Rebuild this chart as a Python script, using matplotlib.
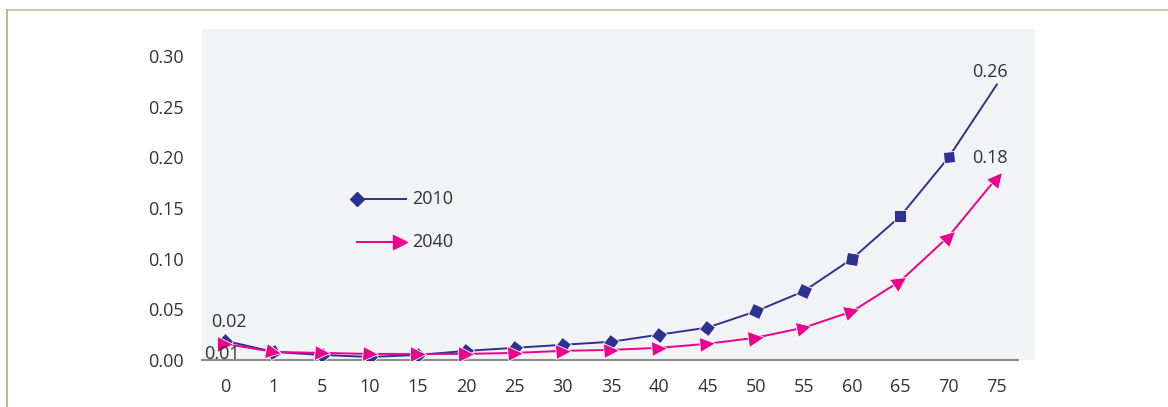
import matplotlib
matplotlib.use("Agg")
from matplotlib import pyplot as plt
from matplotlib.markers import MarkerStyle
from matplotlib.transforms import Affine2D
from matplotlib.lines import Line2D
import numpy as np

ages = ['0', '1', '5', '10', '15', '20', '25', '30', '35', '40', '45',
        '50', '55', '60', '65', '70', '75']
rate_2010 = [0.019, 0.008, 0.005, 0.003, 0.005, 0.009, 0.012, 0.015, 0.018,
             0.025, 0.032, 0.048, 0.068, 0.100, 0.142, 0.200, 0.272]
rate_2040 = [0.016, 0.008, 0.007, 0.006, 0.006, 0.006, 0.007, 0.009, 0.010,
             0.012, 0.016, 0.022, 0.032, 0.048, 0.078, 0.122, 0.180]
yticks = [0.00, 0.05, 0.10, 0.15, 0.20, 0.25, 0.30]

navy = '#2e3192'
pink = '#ec008c'
txt = '#333333'
fs = 13

plt.rcParams['font.family'] = ['Open Sans', 'DejaVu Sans']

fig = plt.figure(figsize=(11.68, 4.07), dpi=100)
ax = fig.add_axes([202/1168, 47/407, 833/1168, 331/407])
ax.set_facecolor('#f2f3f5')

x = np.arange(len(ages))
ax.set_xlim(-0.48, 16.79)
ax.set_ylim(0, 0.3267)

ax.plot(x, rate_2010, color=navy, lw=1.4, zorder=2)
ax.plot(x, rate_2040, color=pink, lw=1.4, zorder=2)

# markers rotated along the line direction
fig.canvas.draw()
def put_markers(vals, base, extra, color, size, skip_last):
    pts = ax.transData.transform(np.column_stack([x, vals]))
    n = len(vals) - 1 if skip_last else len(vals)
    for i in range(n):
        j = max(i, 1)
        dx, dy = pts[j] - pts[j - 1]
        ang = np.degrees(np.arctan2(dy, dx)) if i > 0 else 0
        m = MarkerStyle(base, transform=Affine2D().rotate_deg(ang + extra))
        ax.plot([x[i]], [vals[i]], marker=m, ms=size, color=color,
                mec='white', mew=0.6, ls='none', zorder=3)

put_markers(rate_2010, 's', 45, navy, 8.5, True)
put_markers(rate_2040, '>', 0, pink, 11, False)

ax.set_xticks(x)
ax.set_xticklabels(ages)
ax.set_yticks(yticks)
ax.set_yticklabels(['%.2f' % v for v in yticks])
ax.tick_params(length=0, labelsize=fs, colors=txt)
ax.tick_params(axis='x', pad=13)
ax.tick_params(axis='y', pad=13)
for s in ['top', 'right', 'left']:
    ax.spines[s].set_visible(False)
ax.spines['bottom'].set_color('#8c8c8c')
ax.spines['bottom'].set_linewidth(1.5)
ax.spines['bottom'].set_bounds(-0.48, 16.43)

# data labels
ax.text(0.07, 0.0375, '0.02', fontsize=fs, color=txt, ha='center', va='center')
ax.text(-0.07, 0.0062, '0.01', fontsize=fs, color=txt, ha='center', va='center')
ax.text(15.85, 0.284, '0.26', fontsize=fs, color=txt, ha='center', va='center')
ax.text(15.85, 0.199, '0.18', fontsize=fs, color=txt, ha='center', va='center')

# legend drawn by hand
tr = ax.transAxes
ax.plot([0.196, 0.245], [0.485, 0.485], color=navy, lw=1.4, transform=tr)
ax.plot([0.186], [0.485], marker='D', ms=7.5, color=navy, transform=tr)
ax.text(0.252, 0.487, '2010', fontsize=fs, color=txt, va='center', transform=tr)
ax.plot([0.186, 0.232], [0.355, 0.355], color=pink, lw=1.4, transform=tr)
ax.plot([0.238], [0.355], marker='>', ms=10, color=pink, transform=tr)
ax.text(0.252, 0.357, '2040', fontsize=fs, color=txt, va='center', transform=tr)

# outer frame lines
frame = '#cbbd95'
fig.add_artist(Line2D([7/1168, 1], [1 - 10/407, 1 - 10/407], color=frame, lw=1.2))
fig.add_artist(Line2D([7/1168, 7/1168], [0, 1 - 10/407], color='#b9a77c', lw=1.2))

fig.savefig('out.png', dpi=100)
